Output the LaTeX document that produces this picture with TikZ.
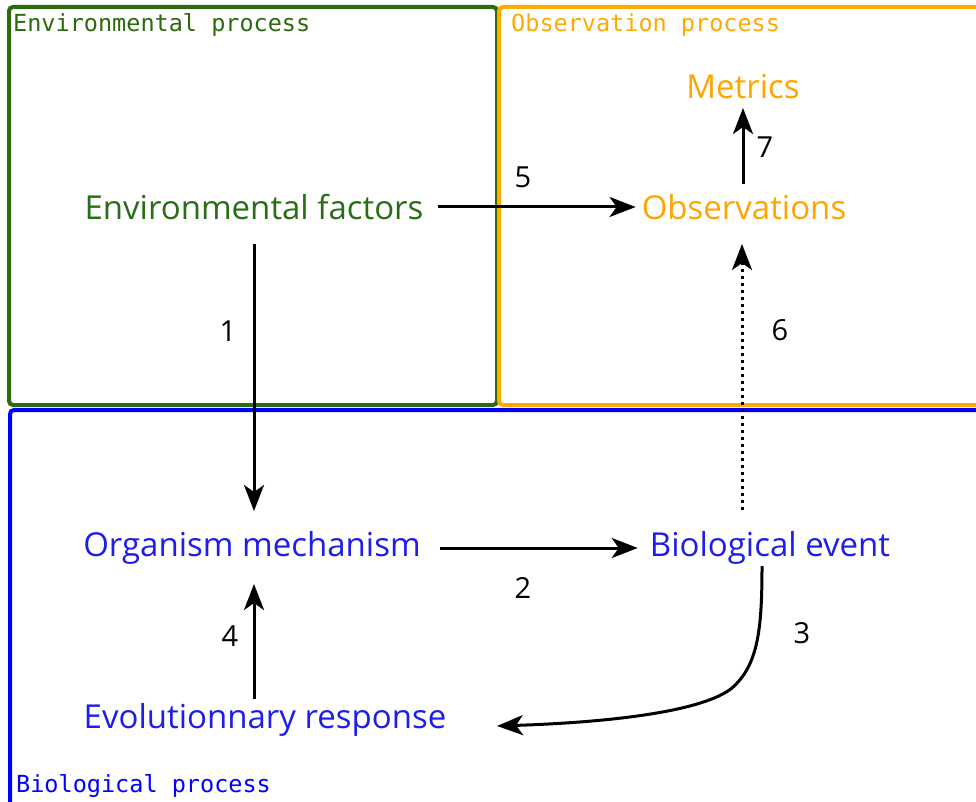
\documentclass[tikz,border=0pt]{standalone}
\usepackage{fontspec}
\setmainfont{Open Sans}
\newfontfamily\monof{DejaVu Sans Mono}
\usetikzlibrary{arrows.meta}
\definecolor{envg}{RGB}{45,105,15}
\definecolor{obso}{RGB}{255,170,0}
\definecolor{biob}{RGB}{0,0,255}
\definecolor{envt}{RGB}{40,110,20}
\definecolor{obst}{RGB}{255,165,0}
\definecolor{biot}{RGB}{30,30,235}
\tikzset{
  region/.style={line width=4pt, rounded corners=4pt},
  regionlabel/.style={anchor=north west, inner sep=0pt, font=\monof\fontsize{23.5}{25}\selectfont},
  term/.style={inner sep=0pt, font=\fontsize{33}{36}\selectfont},
  num/.style={inner sep=0pt, font=\fontsize{29}{32}\selectfont},
  conn/.style={line width=3pt, -{Stealth[length=26pt,width=20pt,inset=7pt]}},
  dotconn/.style={conn, dash pattern=on 3pt off 4pt}
}
\begin{document}
\begin{tikzpicture}[x=1pt,y=-1pt]
\useasboundingbox (0,0) rectangle (976,802);
\clip (0,0) rectangle (976,802);
\fill[white] (0,0) rectangle (976,802);
% regions
\draw[region, envg] (9,7) rectangle (497,405);
\draw[region, obso] (499,7) rectangle (1000,405);
\draw[region, biob] (10,410) rectangle (1000,830);
\node[regionlabel, text=envg] (lenv) at (13,13) {Environmental process};
\node[regionlabel, text=obso] (lobs) at (511,13) {Observation process};
\node[regionlabel, text=biob] (lbio) at (16,774) {Biological process};
% terms
\node[term, text=envt] (ef) at (254,207) {Environmental factors};
\node[term, text=obst] (obs) at (744,207) {Observations};
\node[term, text=obst] (met) at (743,87) {Metrics};
\node[term, text=biot] (om) at (252,548) {Organism mechanism};
\node[term, text=biot] (be) at (770,548) {Biological event};
\node[term, text=biot] (er) at (265,720) {Evolutionnary response};
% connectors
\coordinate (c1s) at (254,244);
\coordinate (c1e) at (254,511);
\draw[conn] (c1s) -- (c1e);
\draw[conn] (ef.east) ++(14,0) -- ([xshift=-6pt]obs.west);
\draw[conn] (om.east) ++(19,0) -- ([xshift=-12pt]be.west);
\coordinate (c4s) at (254,699);
\coordinate (c4e) at (254,584);
\draw[conn] (c4s) -- (c4e);
\coordinate (c7s) at (743,184);
\coordinate (c7e) at (743,108);
\draw[conn] (c7s) -- (c7e);
\coordinate (c6s) at (742,510);
\coordinate (c6e) at (742,244);
\draw[dotconn] (c6s) -- (c6e);
\coordinate (c3s) at (762,566);
\coordinate (c3e) at (497,726);
\draw[conn] (c3s) .. controls (762,630) and (758,665) .. (732,688) .. controls (705,710) and (620,722) .. (c3e);
% numbers
\node[num] (n1) at (228,331) {1};
\node[num] (n2) at (523,588) {2};
\node[num] (n3) at (802,633) {3};
\node[num] (n4) at (230,636) {4};
\node[num] (n5) at (523,177) {5};
\node[num] (n6) at (780,330) {6};
\node[num] (n7) at (765,147) {7};
\end{tikzpicture}
\end{document}
